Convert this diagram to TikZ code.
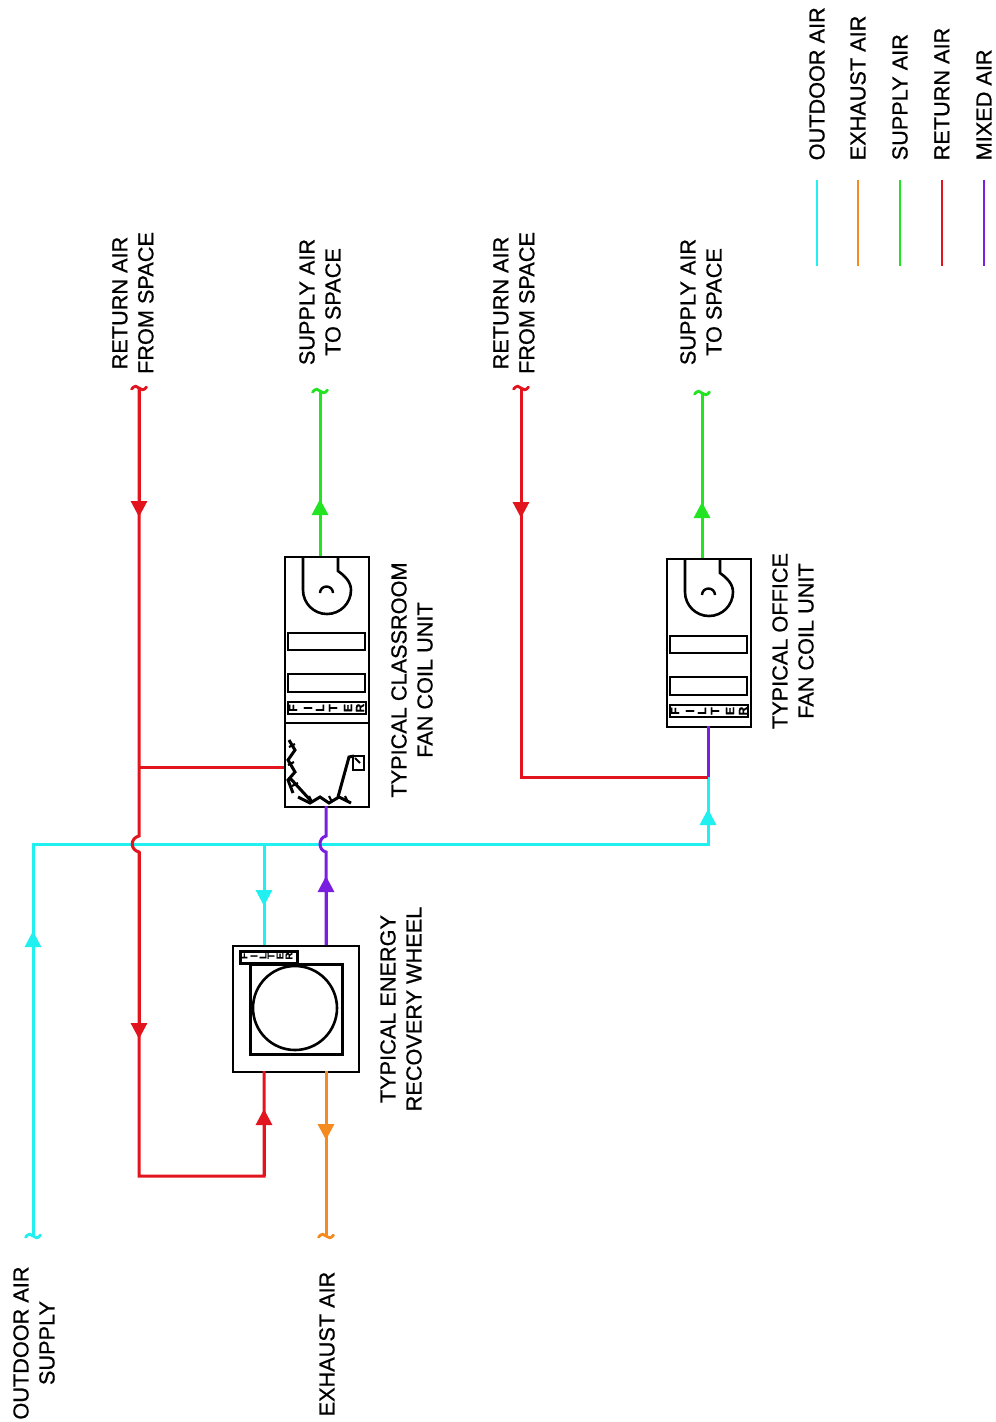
\documentclass[tikz,border=0pt]{standalone}
\usepackage{fontspec}
\setmainfont{Liberation Sans}[FakeBold=0.7]
\usetikzlibrary{arrows.meta}
\definecolor{oaC}{HTML}{20F0F0}
\definecolor{exC}{HTML}{F58A1E}
\definecolor{suC}{HTML}{22E422}
\definecolor{reC}{HTML}{E2141E}
\definecolor{miC}{HTML}{7A1FE0}
\tikzset{
  lbl/.style={rotate=90,align=center,inner sep=0pt,text=black,font=\fontsize{21.7}{26}\selectfont},
  leg/.style={rotate=90,anchor=west,inner sep=0pt,text=black,font=\fontsize{21.7}{26}\selectfont},
  duct/.style={line width=3pt,line join=miter},
  flow/.style={line width=3pt,-{Triangle[length=16pt,width=16pt]}},
  box/.style={draw=black,line width=2.8pt},
  part/.style={draw=black,line width=2.6pt},
  dmp/.style={draw=black,line width=3pt},
  lett/.style={rotate=90,inner sep=0pt,text=black,font=\fontsize{12}{12}\selectfont\bfseries},
  squig/.style={line width=2.8pt,line cap=round}
}
\newcommand{\squigat}[2]{% #1 colour, #2 coordinate
  \draw[squig,#1] ([xshift=-7.5pt,yshift=-1pt]#2) .. controls ([xshift=-4pt,yshift=3pt]#2) and ([xshift=-2pt,yshift=2pt]#2) .. (#2) .. controls ([xshift=2pt,yshift=-2pt]#2) and ([xshift=5pt,yshift=-3pt]#2) .. ([xshift=7.5pt,yshift=1pt]#2);}
\newcommand{\fanat}[3]{% #1 x-left of scroll, #2 top of unit, #3 name
  \begin{scope}[shift={(#1,#2)}]
    \coordinate (#3) at (24,34);
    \draw[part] (0,0) -- (0,34) arc[start angle=180,end angle=0,x radius=24,y radius=24]
      .. controls (48,26) and (42,20) .. (35,15) -- (35,0);
    \draw[part,line width=2.4pt] (17,37) arc[start angle=180,end angle=0,x radius=6.5,y radius=-6.5] ;
  \end{scope}}
\begin{document}
\begin{tikzpicture}[x=1pt,y=-1pt]
\useasboundingbox (0,0) rectangle (996,1422);
\fill[white] (0,0) rectangle (996,1422);

% ---- units
\node[box,minimum width=84pt,minimum height=250pt,inner sep=0pt,anchor=north west] (cfcu) at (283.5,555.5) {};
\node[box,minimum width=84pt,minimum height=168pt,inner sep=0pt,anchor=north west] (ofcu) at (665.5,557.5) {};
\node[box,minimum width=126pt,minimum height=126pt,inner sep=0pt,anchor=north west] (erv) at (231.5,944.5) {};

% classroom FCU
\fanat{303}{556}{cfan}
\draw[part] (288,633) rectangle (365,650);
\draw[part] (288,674) rectangle (365,692);
\draw[part] (288,702) rectangle (366,714);
\draw[part] (284,723) -- (368,723);
\foreach \x/\l in {293/F,308/I,320/L,333/T,348/E,360/R}
  \node[lett] (cf\l) at (\x,708) {\l};
% damper
\draw[dmp] (289,740) -- (295,750) -- (288,760) -- (295,772) -- (288,780) -- (293,793);
\draw[dmp] (290,778) -- (312,802);
\draw[dmp] (298,797) -- (310,803) -- (320,797) -- (329,803) -- (339,797) -- (351,803);
\draw[dmp] (338,797) -- (349,757) -- (354,756);
\draw[part] (353,756) rectangle (364,770);
\draw[part,line width=1.8pt] (355,758) -- (360,763);
\foreach \a/\b in {289/747,288/765,292/786}
  \draw[part,line width=2.2pt] (\a,\b) -- ++(6,-3);
\foreach \a/\b in {309/796,329/796,345/796}
  \draw[part,line width=2.2pt] (\a,\b) -- ++(3,6);

% office FCU
\fanat{685}{558}{ofan}
\draw[part] (670,636) rectangle (747,653);
\draw[part] (670,677) rectangle (747,695);
\draw[part] (670,705) rectangle (748,717);
\foreach \x/\l in {675/F,690/I,702/L,715/T,730/E,743/R}
  \node[lett] (of\l) at (\x,711) {\l};

% ERV
\node[part,minimum width=92pt,minimum height=90pt,inner sep=0pt,anchor=north west] (core) at (249,963) {};
\node[part,circle,minimum size=84pt,inner sep=0pt] (wheel) at (295,1008) {};
\node[part,fill=white,minimum width=57pt,minimum height=12pt,inner sep=0pt,anchor=north west] (ervf) at (239,950) {};
\foreach \x/\l in {244/F,254/I,263/L,271/T,280/E,289/R}
  \node[lett,font=\fontsize{10}{10}\selectfont\bfseries] (ef\l) at (\x,956) {\l};

% ---- free ends and corners
\coordinate (r1top) at (139,388);
\coordinate (r1j1) at (139,836);
\coordinate (r1j2) at (139,852);
\coordinate (r1cor) at (139,1176);
\coordinate (r1cor2) at (264,1176);
\coordinate (r1tap) at (139,767);
\coordinate (s1top) at (320,391);
\coordinate (r2top) at (521,388);
\coordinate (r2cor) at (521,777);
\coordinate (ojoin) at (708,777);
\coordinate (s2top) at (702,393);
\coordinate (oaend) at (33,1236);
\coordinate (oacor) at (33,844);
\coordinate (oacor2) at (708,844);
\coordinate (oatap) at (264,844);
\coordinate (ervoa) at (264,945);
\coordinate (ervre) at (264,1071);
\coordinate (ervmi) at (326,945);
\coordinate (ervex) at (326,1071);
\coordinate (exend) at (326,1236);
\coordinate (cmi) at (326,806);
\coordinate (mj1) at (326,836);
\coordinate (mj2) at (326,852);
\coordinate (cs) at (320,556);
\coordinate (cr) at (284,767);
\coordinate (os) at (702,558);
\coordinate (omi) at (708,726);

% ---- connectors
\draw[duct,oaC] (oaend) -- (oacor) -- (oacor2) -- (ojoin);
\draw[duct,oaC] (oatap) -- (ervoa);
\draw[duct,reC] (r1top) -- (r1j1) .. controls (130,838) and (130,850) .. (r1j2) -- (r1cor) -- (r1cor2) -- (ervre);
\draw[duct,reC] (r1tap) -- (cr);
\draw[duct,suC] (s1top) -- (cs);
\draw[duct,reC] (r2top) -- (r2cor) -- (ojoin);
\draw[duct,suC] (s2top) -- (os);
\draw[duct,miC] (omi) -- (ojoin);
\draw[duct,miC] (cmi) -- (mj1) .. controls (318,838) and (318,850) .. (mj2) -- (ervmi);
\draw[duct,exC] (ervex) -- (exend);

% ---- arrowheads
\coordinate (a1) at (139,517); \draw[flow,reC] (r1top) -- (a1);
\coordinate (a2) at (320,499); \draw[flow,suC] (cs) -- (a2);
\coordinate (a3) at (521,518); \draw[flow,reC] (r2top) -- (a3);
\coordinate (a4) at (702,502); \draw[flow,suC] (os) -- (a4);
\coordinate (a5) at (708,809); \draw[flow,oaC] (oacor2) -- (a5);
\coordinate (a6) at (33,931); \draw[flow,oaC] (oaend) -- (a6);
\coordinate (a7) at (264,906); \draw[flow,oaC] (oatap) -- (a7);
\coordinate (a8) at (326,876); \draw[flow,miC] (ervmi) -- (a8);
\coordinate (a9) at (139,1039); \draw[flow,reC] (r1j2) -- (a9);
\coordinate (a10) at (264,1109); \draw[flow,reC] (r1cor2) -- (a10);
\coordinate (a11) at (326,1140); \draw[flow,exC] (ervex) -- (a11);

% ---- break marks
\squigat{reC}{r1top}
\squigat{suC}{s1top}
\squigat{reC}{r2top}
\squigat{suC}{s2top}
\squigat{oaC}{oaend}
\squigat{exC}{exend}

% ---- labels
\node[lbl] (t1) at (133,303) {RETURN AIR\\FROM SPACE};
\node[lbl] (t2) at (320,302) {SUPPLY AIR\\TO SPACE};
\node[lbl] (t3) at (514,303) {RETURN AIR\\FROM SPACE};
\node[lbl] (t4) at (701,302) {SUPPLY AIR\\TO SPACE};
\node[lbl] (t5) at (412,680) {TYPICAL CLASSROOM\\FAN COIL UNIT};
\node[lbl] (t6) at (793,641) {TYPICAL OFFICE\\FAN COIL UNIT};
\node[lbl] (t7) at (401,1009) {TYPICAL ENERGY\\RECOVERY WHEEL};
\node[lbl] (t8) at (34,1343) {OUTDOOR AIR\\SUPPLY};
\node[lbl] (t9) at (327,1344) {EXHAUST AIR};

% ---- legend
\foreach \x/\c/\t/\n in {817/oaC/OUTDOOR AIR/la,858/exC/EXHAUST AIR/lb,900/suC/SUPPLY AIR/lc,942/reC/RETURN AIR/ld,984/miC/MIXED AIR/le}{
  \coordinate (\n1) at (\x,180);
  \coordinate (\n2) at (\x,266);
  \draw[\c,line width=2.4pt] (\n1) -- (\n2);
  \node[leg] (\n) at (\x,160.5) {\t};
}
\end{tikzpicture}
\end{document}
